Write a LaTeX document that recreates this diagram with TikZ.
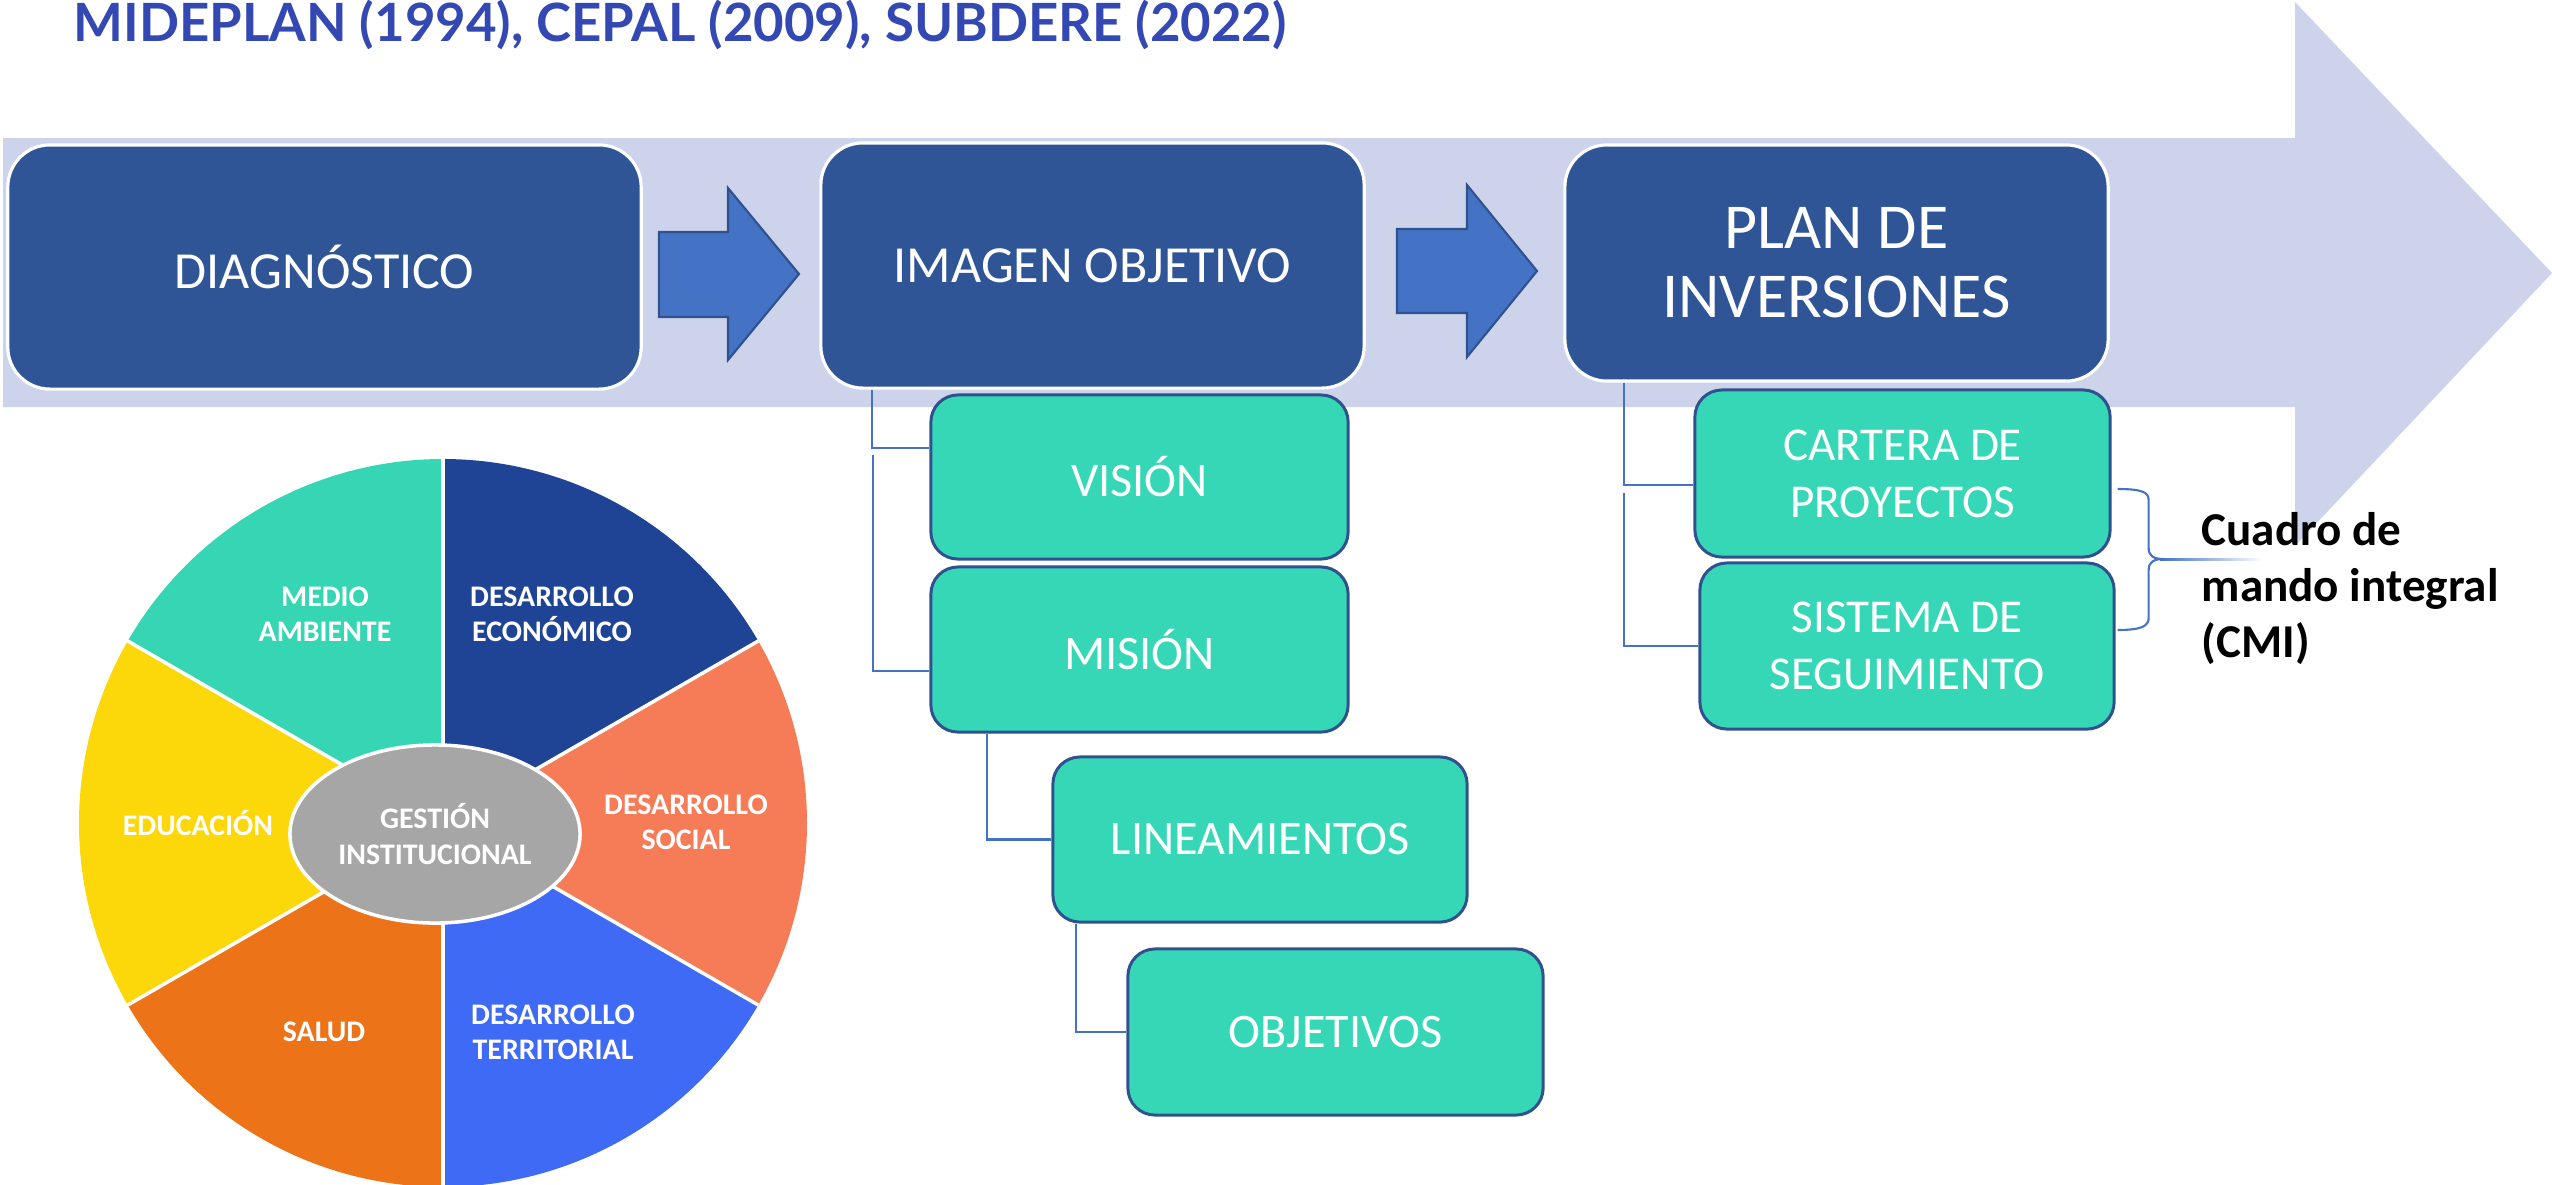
\documentclass[tikz,border=0pt]{standalone}
\usepackage{fontspec}
\setmainfont{Carlito}
\newfontfamily\latofont{Lato}
\usetikzlibrary{shapes.geometric}

\definecolor{bandcol}{RGB}{205,211,234}
\definecolor{boxblue}{RGB}{47,85,151}
\definecolor{arrowblue}{RGB}{68,114,196}
\definecolor{turq}{RGB}{54,215,183}
\definecolor{edgeblue}{RGB}{47,82,143}
\definecolor{titleblue}{RGB}{51,72,178}
\definecolor{econcol}{RGB}{31,68,150}
\definecolor{medcol}{RGB}{54,214,180}
\definecolor{educol}{RGB}{252,215,10}
\definecolor{salcol}{RGB}{236,115,24}
\definecolor{tercol}{RGB}{62,106,245}
\definecolor{soccol}{RGB}{246,124,88}
\definecolor{gescol}{RGB}{166,166,166}

\tikzset{
	darkbox/.style={draw=white, line width=0.9pt, fill=boxblue, rounded corners=0.42cm, text=white, align=center, inner sep=0pt, font=\fontsize{14.8}{17}\selectfont},
	greenbox/.style={draw=edgeblue, line width=0.85pt, fill=turq, rounded corners=0.27cm, text=white, align=center, inner sep=0pt, font=\fontsize{13.7}{16.2}\selectfont},
	smallarrow/.style={fill=arrowblue, draw=edgeblue, line width=0.6pt},
	conn/.style={draw=arrowblue, line width=0.6pt},
	wheellabel/.style={text=white, align=center, inner sep=0pt, font=\bfseries\fontsize{8.5}{10}\selectfont}
}

\begin{document}
\begin{tikzpicture}[x=0.01cm,y=-0.01cm]
	\useasboundingbox (0,0) rectangle (2552,1184);
	\fill[bandcol] (3,138) -- (2295,138) -- (2295,2) -- (2552,273) -- (2295,546) -- (2295,407) -- (3,407) -- cycle;
	\node[anchor=base west, text=titleblue, inner sep=0pt, font=\latofont\bfseries\fontsize{15}{17}\selectfont] (title) at (73,41) {MIDEPLAN (1994), CEPAL (2009), SUBDERE (2022)};

	\node[darkbox, minimum width=6.33cm, minimum height=2.44cm] (diag) at (324.5,267) {DIAGNÓSTICO};
	\node[darkbox, minimum width=5.43cm, minimum height=2.45cm] (img) at (1092.5,265.5) {IMAGEN OBJETIVO};
	\node[darkbox, minimum width=5.43cm, minimum height=2.36cm, font=\fontsize{18.2}{19.6}\selectfont] (plan) at (1836.5,263) {PLAN DE\\INVERSIONES};
	\draw[smallarrow] (659,232) -- (728,232) -- (728,188) -- (799,274) -- (728,360) -- (728,317) -- (659,317) -- cycle;
	\draw[smallarrow] (1397,229) -- (1467,229) -- (1467,185) -- (1537,271) -- (1467,357) -- (1467,313) -- (1397,313) -- cycle;

	\node[greenbox, minimum width=4.17cm, minimum height=1.64cm] (vis) at (1139.5,477) {VISIÓN};
	\node[greenbox, minimum width=4.17cm, minimum height=1.65cm] (mis) at (1139.5,649.5) {MISIÓN};
	\node[greenbox, minimum width=4.14cm, minimum height=1.65cm] (lin) at (1260,839.5) {LINEAMIENTOS};
	\node[greenbox, minimum width=4.15cm, minimum height=1.66cm] (obj) at (1335.5,1032) {OBJETIVOS};
	\node[greenbox, minimum width=4.15cm, minimum height=1.67cm, font=\fontsize{13.4}{16.2}\selectfont] (car) at (1902.5,473.5) {CARTERA DE\\PROYECTOS};
	\node[greenbox, minimum width=4.14cm, minimum height=1.66cm, font=\fontsize{13.4}{16.2}\selectfont] (sis) at (1907,646) {SISTEMA DE\\SEGUIMIENTO};
	\draw[conn] ([xshift=0.53cm]img.south west) |- ([yshift=0.29cm]vis.west);
	\draw[conn] ([xshift=0.54cm,yshift=-0.65cm]img.south west) |- ([yshift=-0.215cm]mis.west);
	\draw[conn] ([xshift=0.58cm]mis.south west) |- (lin.west);
	\draw[conn] ([xshift=0.25cm]lin.south west) |- (obj.west);
	\draw[conn] ([xshift=0.61cm]plan.south west) |- ([yshift=-0.115cm]car.west);
	\draw[conn] ([xshift=0.61cm,yshift=-1.1cm]plan.south west) |- (sis.west);

	\draw[conn] ([xshift=0.06cm,yshift=-0.155cm]car.east) .. controls +(24,0) and +(0,-8) .. ++(31,11) -- ++(0,48) .. controls +(0,8) and +(-10,0) .. ++(15,11) coordinate (tip) .. controls +(-10,0) and +(0,-8) .. ++(-15,11) -- ++(0,48) .. controls +(0,8) and +(24,0) .. ([xshift=0.02cm,yshift=0.16cm]sis.east);
	\shade[left color=arrowblue, right color=white] (2160,558) rectangle (2263,560.5);
	\node[anchor=base west, align=left, inner sep=0pt, font=\bfseries\fontsize{13.4}{15.9}\selectfont] (cmi) at (2201,657) {Cuadro de\\mando integral\\(CMI)};

	\foreach \a/\c in {270/econcol,210/medcol,150/educol,90/salcol,30/tercol,-30/soccol}
		\fill[\c] (443,823) -- ++(\a:364) arc[start angle=\a, end angle=\a+60, radius=364] -- cycle;
	\foreach \a in {30,90,...,330}
		\draw[white, line width=1pt] (443,823) -- ++(\a:364);
	\node[ellipse, fill=gescol, draw=white, line width=1pt, minimum width=2.9cm, minimum height=1.78cm, wheellabel] (gest) at (435,834) {GESTIÓN\\INSTITUCIONAL};
	\node[wheellabel] (medio) at (325,614) {MEDIO\\AMBIENTE};
	\node[wheellabel] (econ) at (552,614) {DESARROLLO\\ECONÓMICO};
	\node[wheellabel] (educ) at (198,823) {EDUCACIÓN};
	\node[wheellabel] (social) at (686,822) {DESARROLLO\\SOCIAL};
	\node[wheellabel] (salud) at (324,1032) {SALUD};
	\node[wheellabel] (terr) at (553,1032) {DESARROLLO\\TERRITORIAL};
\end{tikzpicture}
\end{document}
